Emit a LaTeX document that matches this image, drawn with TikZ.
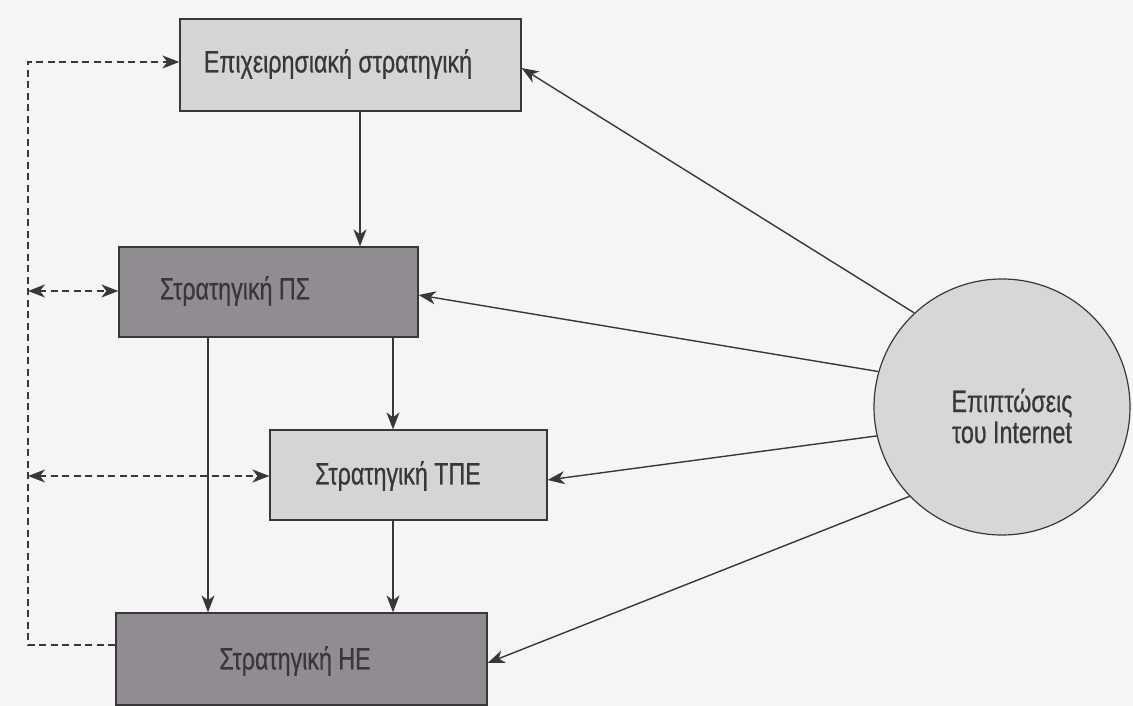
\documentclass[tikz,border=0pt]{standalone}
\usepackage{fontspec}
\setmainfont{Liberation Sans}[FakeStretch=0.75,FakeBold=0.6]
\usetikzlibrary{arrows.meta}
\definecolor{paper}{HTML}{F5F5F5}
\definecolor{ink}{HTML}{383838}
\definecolor{lightfill}{HTML}{D5D5D5}
\definecolor{darkfill}{HTML}{918C91}
\definecolor{netfill}{HTML}{D7D7D7}
\tikzset{
  box/.style={draw=ink, line width=1.2pt, inner sep=0pt},
  lightbox/.style={box, fill=lightfill},
  darkbox/.style={box, fill=darkfill},
  boxtext/.style={inner sep=0pt, text=ink, font=\fontsize{31}{34}\selectfont},
  tip/.tip={Stealth[length=17pt,width=13pt,inset=5pt]},
  flow/.style={draw=ink, line width=1.4pt, -tip},
  fb/.style={draw=ink, line width=1.4pt, dash pattern=on 7pt off 4.5pt},
  fbtip/.style={fb, -tip},
  fbboth/.style={fb, tip-tip}
}
\begin{document}
\begin{tikzpicture}[x=1pt,y=-1pt]
  % page
  \fill[paper] (0,0) rectangle (1133,706);
  \useasboundingbox (0,0) rectangle (1133,706);

  % strategy boxes
  \node[lightbox, minimum width=341pt, minimum height=92pt] (ent) at (350.5,65) {};
  \node[boxtext] (entT) at (338,64) {Επιχειρησιακή στρατηγική};

  \node[darkbox, minimum width=299pt, minimum height=90pt] (ps) at (268.5,292) {};
  \node[boxtext] (psT) at (235,291) {Στρατηγική ΠΣ};

  \node[lightbox, minimum width=277pt, minimum height=90pt] (tpe) at (408.5,475) {};
  \node[boxtext] (tpeT) at (398,476) {Στρατηγική ΤΠΕ};

  \node[darkbox, minimum width=371pt, minimum height=92pt] (he) at (301.5,659) {};
  \node[boxtext] (heT) at (295,661) {Στρατηγική ΗΕ};

  % internet impact
  \node[circle, draw=ink, line width=1.2pt, fill=netfill, minimum size=256pt,
        inner sep=0pt] (net) at (1002,407) {};
  \node[inner sep=0pt, align=center, text=ink,
        font=\fontsize{31}{31}\selectfont] (netT) at (1012,416)
        {Επιπτώσεις\\του Internet};

  % vertical guide positions
  \coordinate (xA) at (360,0);
  \coordinate (xB) at (208,0);
  \coordinate (xC) at (393,0);

  % top-down flow
  \draw[flow] (ent.south -| xA) -- (ps.north -| xA);
  \draw[flow] (ps.south -| xB) -- (he.north -| xB);
  \draw[flow] (ps.south -| xC) -- (tpe.north -| xC);
  \draw[flow] (tpe.south -| xC) -- (he.north -| xC);

  % influence of the internet
  \draw[flow] (net.133.5) -- ([yshift=-3pt]ent.east);
  \draw[flow] (net.164) -- ([yshift=-3pt]ps.east);
  \draw[flow] (net.193) -- ([yshift=-5pt]tpe.east);
  \draw[flow] (net.224) -- ([yshift=-4pt]he.east);

  % feedback loop
  \coordinate (fTop) at (28,62);
  \coordinate (fBot) at (28,645);
  \coordinate (fPS) at (28,291);
  \coordinate (fTPE) at (28,476);
  \draw[fbtip] (he.west |- fBot) -- (fBot) -- (fTop) -- (ent.west |- fTop);
  \draw[fbboth] (fPS) -- (ps.west |- fPS);
  \draw[fbboth] (fTPE) -- (tpe.west |- fTPE);
\end{tikzpicture}
\end{document}
